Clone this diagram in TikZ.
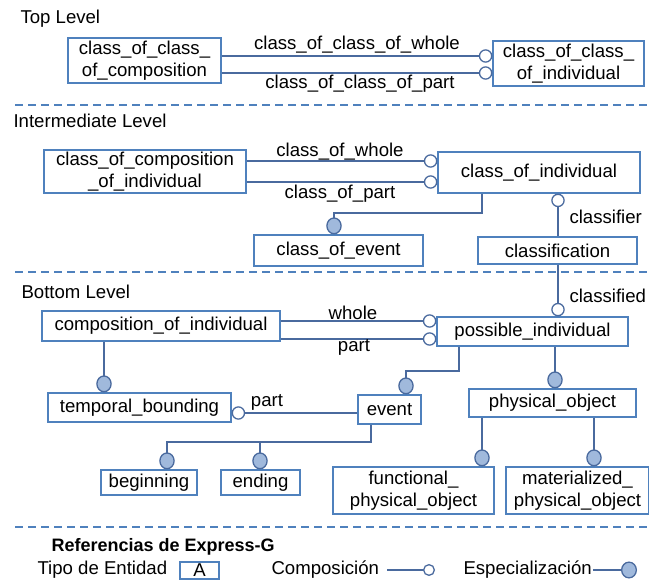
\documentclass[tikz,border=0pt]{standalone}
\usepackage{fontspec}
\setmainfont{Liberation Sans}
\usetikzlibrary{arrows.meta}
\definecolor{boxc}{RGB}{79,129,189}
\definecolor{linec}{RGB}{74,106,158}
\definecolor{fillc}{RGB}{160,185,220}

\begin{document}
\begin{tikzpicture}[x=1pt,y=-1pt,
	font=\fontsize{18.6}{22.5}\selectfont,
	ent/.style={draw=boxc,line width=1.3pt,align=center,inner sep=0pt,fill=white},
	ln/.style={draw=linec,line width=1.3pt},
	comp/.style={ln,-{Circle[fill=white,length=13.5pt,width=13.5pt]}},
	spec/.style={ln,-{Circle[fill=fillc,length=17pt,width=15.5pt]}},
	sep/.style={draw=boxc,line width=1.3pt,dash pattern=on 8pt off 5pt}]
	\useasboundingbox (0,0) rectangle (649,580);

	\node[anchor=west] (tl) at (17,19) {Top Level};
	\node[ent,minimum width=153pt,minimum height=45pt] (a) at (144.5,60.5) {class\_of\_class\_\\of\_composition};
	\node[ent,minimum width=151pt,minimum height=45pt] (b) at (568.5,63.5) {class\_of\_class\_\\of\_individual};
	\draw[comp] (a.east |- 0,56) -- (b.west |- 0,56);
	\draw[comp] (a.east |- 0,73) -- (b.west |- 0,73);
	\node (bw) at (357,45) {class\_of\_class\_of\_whole};
	\node (bp) at (360,84) {class\_of\_class\_of\_part};
	\draw[sep] (15,105) -- (649,105);

	\node[anchor=west] (il) at (10,121) {Intermediate Level};
	\node[ent,minimum width=202pt,minimum height=43pt] (c) at (145,171.5) {class\_of\_composition\\\_of\_individual};
	\node[ent,minimum width=202pt,minimum height=41pt] (d) at (539,172.5) {class\_of\_individual};
	\node[ent,minimum width=169pt,minimum height=31pt] (e) at (338.5,250.5) {class\_of\_event};
	\node[ent,minimum width=159pt,minimum height=27pt] (f) at (557.5,250.5) {classification};
	\draw[comp] (c.east |- 0,161) -- (d.west |- 0,161);
	\draw[comp] (c.east |- 0,182) -- (d.west |- 0,182);
	\node (dw) at (340,152) {class\_of\_whole};
	\node (dp) at (340,194) {class\_of\_part};
	\draw[spec] (d.south -| 482,0) |- (334,213) -- (e.north -| 334,0);
	\draw[comp] (f.north -| 558,0) -- (d.south -| 558,0);
	\node[anchor=west] (fc) at (566,217) {classifier};
	\draw[sep] (15,272) -- (649,272);

	\node[anchor=west] (bl) at (18,292) {Bottom Level};
	\node[ent,minimum width=238pt,minimum height=30pt] (g) at (161,326) {composition\_of\_individual};
	\node[ent,minimum width=191pt,minimum height=29pt] (h) at (532.5,331.5) {possible\_individual};
	\draw[comp] (f.south -| 558,0) -- (h.north -| 558,0);
	\node[anchor=west] (fd) at (566,296) {classified};
	\draw[comp] (g.east |- 0,321) -- (h.west |- 0,321);
	\draw[comp] (g.east |- 0,339) -- (h.west |- 0,339);
	\node (hw) at (353,313) {whole};
	\node (hp) at (354,347) {part};
	\node[ent,minimum width=183pt,minimum height=29pt] (i) at (139.5,407.5) {temporal\_bounding};
	\node[ent,minimum width=63pt,minimum height=29pt] (j) at (389.5,409.5) {event};
	\node[ent,minimum width=167pt,minimum height=28pt] (k) at (552.5,403) {physical\_object};
	\draw[spec] (g.south -| 104,0) -- (i.north -| 104,0);
	\draw[comp] (j.west |- 0,413) -- (i.east |- 0,413);
	\node (ip) at (267,402) {part};
	\draw[spec] (h.south -| 459,0) |- (406,371) -- (j.north -| 406,0);
	\draw[spec] (h.south -| 555,0) -- (k.north -| 555,0);
	\node[ent,minimum width=96pt,minimum height=25pt] (l) at (149,482.5) {beginning};
	\node[ent,minimum width=79pt,minimum height=25pt] (m) at (260.5,482.5) {ending};
	\node[ent,minimum width=161pt,minimum height=47pt] (n) at (413.5,490.5) {functional\_\\physical\_object};
	\node[ent,minimum width=143pt,minimum height=47pt] (o) at (577.5,490.5) {materialized\_\\physical\_object};
	\draw[spec] (j.south -| 371,0) |- (167,442) -- (l.north -| 167,0);
	\draw[spec] (260,442) -- (m.north -| 260,0);
	\draw[spec] (k.south -| 482,0) -- (n.north -| 482,0);
	\draw[spec] (k.south -| 594,0) -- (o.north -| 594,0);
	\draw[sep] (15,527) -- (649,527);

	\node[anchor=west,font=\fontsize{18}{22.5}\selectfont\bfseries] (r) at (48,547) {Referencias de Express-G};
	\node[anchor=west] (r1) at (34,570) {Tipo de Entidad};
	\node[ent,minimum width=39pt,minimum height=17pt] (ra) at (199.5,570.5) {A};
	\node[anchor=west] (r2) at (268,570) {Composición};
	\coordinate (r2a) at (387,570);
	\coordinate (r2b) at (435,570);
	\draw[ln,-{Circle[fill=white,length=12pt,width=12pt]}] (r2a) -- (r2b);
	\node[anchor=west] (r3) at (460,570) {Especialización};
	\coordinate (r3a) at (593,570);
	\coordinate (r3b) at (637,570);
	\draw[ln,-{Circle[fill=fillc,length=16pt,width=17pt]}] (r3a) -- (r3b);
\end{tikzpicture}
\end{document}
